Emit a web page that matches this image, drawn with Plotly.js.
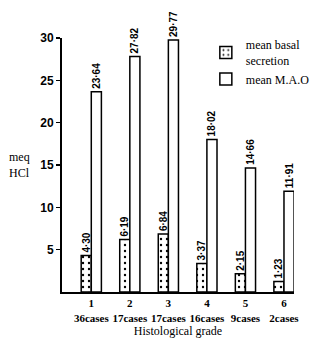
<!DOCTYPE html>
<html>
<head>
<meta charset="utf-8">
<script src="https://cdn.plot.ly/plotly-3.0.1.min.js"></script>
<style>html,body{margin:0;padding:0;background:#fff;}</style>
</head>
<body>
<div id="chart" style="width:326px;height:340px;"></div>
<script>
var grades = ["1", "2", "3", "4", "5", "6"];
var cases = ["36cases", "17cases", "17cases", "16cases", "9cases", "2cases"];
var basal = [4.30, 6.19, 6.84, 3.37, 2.15, 1.23];
var mao = [23.64, 27.82, 29.77, 18.02, 14.66, 11.91];
var yTicks = [5, 10, 15, 20, 25, 30];

function fmt(v) { return v.toFixed(2).replace(".", "\u00b7"); }
var cats = grades.map(function (g, i) { return g + "<br>" + cases[i]; });

var serif = "Liberation Serif, DejaVu Serif, serif";
var narrow = "Liberation Sans Narrow, Liberation Sans, sans-serif";

var traces = [
  {
    type: "bar", name: "mean basal<br>secretion", legendgroup: "basal", x: cats, y: basal,
    text: basal.map(fmt), textposition: "outside", textangle: -90,
    constraintext: "none", cliponaxis: false,
    textfont: { family: narrow, size: 10, color: "#000", weight: "bold" },
    marker: { color: "#fff", line: { color: "#000", width: 1.5 },
      pattern: { shape: ".", fgcolor: "#000", bgcolor: "#fff", size: 6, solidity: 0.12 } }
  },
  {
    type: "bar", name: "mean M.A.O", legendgroup: "mao", x: cats, y: mao,
    text: mao.map(fmt), textposition: "outside", textangle: -90,
    constraintext: "none", cliponaxis: false,
    textfont: { family: narrow, size: 10, color: "#000", weight: "bold" },
    marker: { color: "#fff", line: { color: "#000", width: 1.5 } }
  }
];

var layout = {
  width: 326, height: 340,
  margin: { l: 62, r: 11, t: 38, b: 48 },
  paper_bgcolor: "#fff", plot_bgcolor: "#fff",
  barmode: "group", bargap: 0.476, bargroupgap: 0,
  showlegend: true,
  legend: { x: 0.62, y: 1.03, xanchor: "left", yanchor: "top", bgcolor: "rgba(0,0,0,0)",
    font: { family: serif, size: 12, color: "#000" }, tracegroupgap: 18, traceorder: "normal" },
  xaxis: {
    type: "category", range: [-0.76, 5.26], showline: true, linecolor: "#000", linewidth: 2,
    ticks: "", showgrid: false, zeroline: false,
    tickfont: { family: serif, size: 11, color: "#000", weight: "bold" },
    title: { text: "Histological grade", font: { family: serif, size: 12, color: "#000" }, standoff: 4 }
  },
  yaxis: {
    range: [0, 30], tickvals: yTicks, ticktext: yTicks.map(String),
    showline: true, linecolor: "#000", linewidth: 2,
    ticks: "outside", ticklen: 4, tickwidth: 1.5, tickcolor: "#000",
    showgrid: false, zeroline: false,
    tickfont: { family: narrow, size: 12, color: "#000", weight: "bold" }
  },
  annotations: [
    { text: "meq<br>HCl", xref: "paper", yref: "paper", x: -0.13, y: 0.5, xanchor: "right", yanchor: "middle",
      showarrow: false, align: "left", font: { family: serif, size: 12, color: "#000" } }
  ]
};

Plotly.newPlot("chart", traces, layout, { displayModeBar: false, staticPlot: true });
</script>
</body>
</html>
